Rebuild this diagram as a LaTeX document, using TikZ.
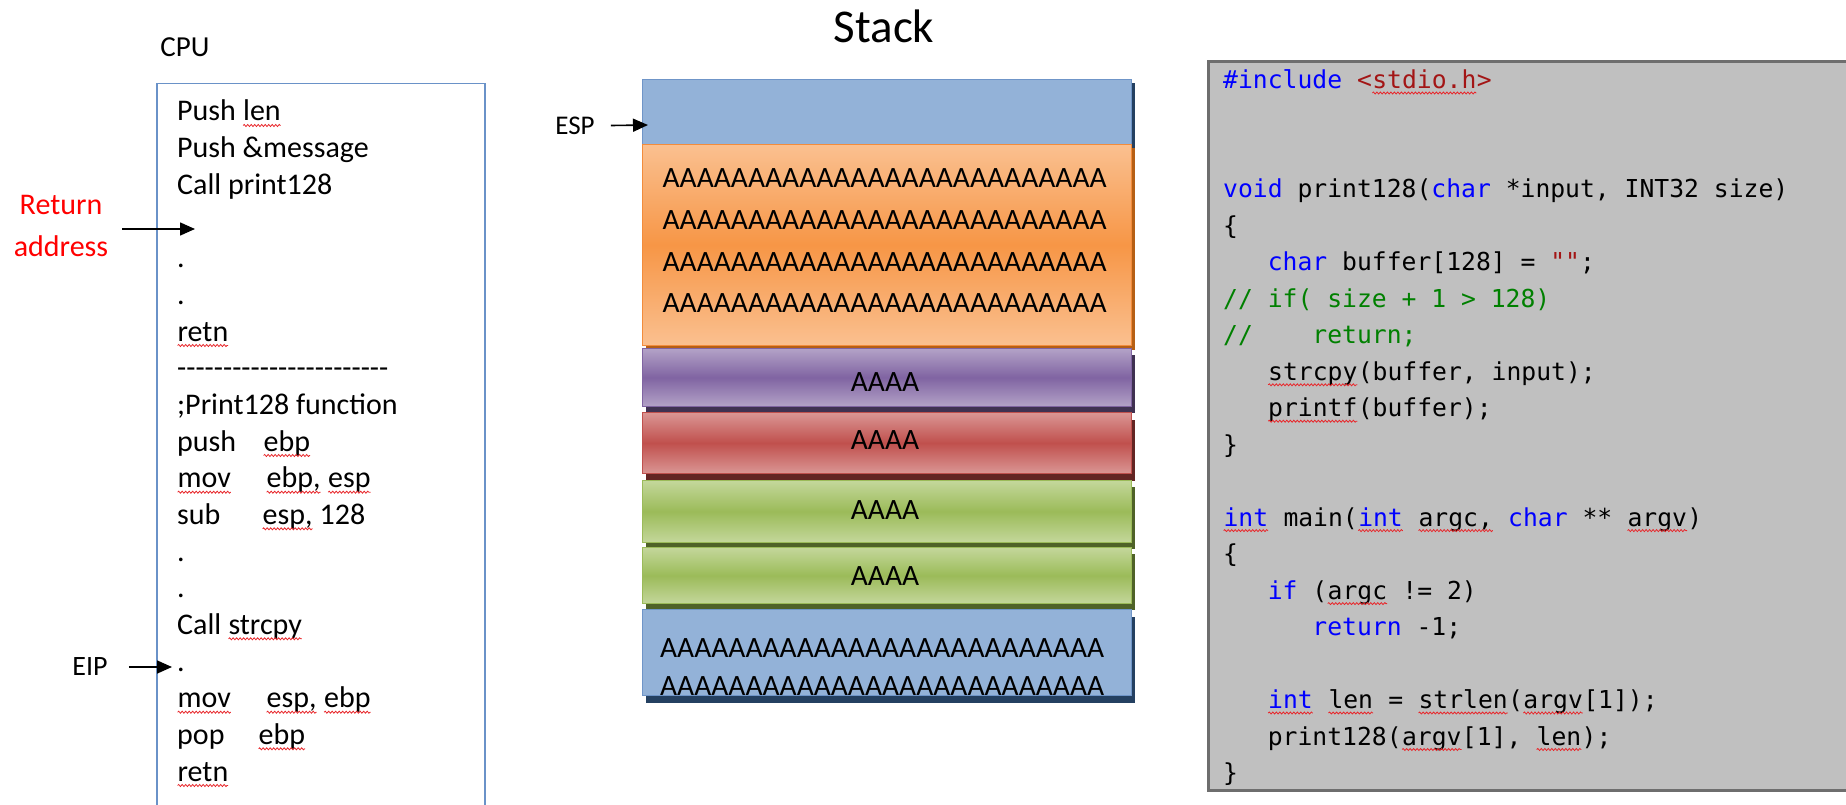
\documentclass[tikz,border=0pt]{standalone}
\usepackage{fontspec}
\usepackage{tikz}
\usetikzlibrary{arrows.meta,shadows,decorations.pathmorphing}
\newfontfamily\cpufont{Carlito}
\newfontfamily\codefont{DejaVu Sans Mono}
\definecolor{cpuedge}{HTML}{6A92C8}
\definecolor{retred}{HTML}{FF0000}
\definecolor{spellred}{HTML}{E8262A}
\definecolor{kwblue}{HTML}{0000FF}
\definecolor{strred}{HTML}{A31515}
\definecolor{cmgreen}{HTML}{008000}
\definecolor{codegray}{HTML}{C0C0C0}
\definecolor{codeedge}{HTML}{6E6E6E}
\definecolor{slotblue}{HTML}{93B2D8}
\definecolor{blueedge}{HTML}{6F95C8}
\definecolor{blueshadow}{HTML}{244061}
\definecolor{orangelight}{HTML}{FAC090}
\definecolor{orangedark}{HTML}{F79646}
\definecolor{orangeedge}{HTML}{F28C3C}
\definecolor{orangeshadow}{HTML}{B65F14}
\definecolor{purplelight}{HTML}{B3A2C7}
\definecolor{purpledark}{HTML}{8064A2}
\definecolor{purpleshadow}{HTML}{3F3151}
\definecolor{redlight}{HTML}{DA9694}
\definecolor{reddark}{HTML}{C0504D}
\definecolor{redshadow}{HTML}{632523}
\definecolor{greenlight}{HTML}{C4D79B}
\definecolor{greendark}{HTML}{9BBB59}
\definecolor{greenshadow}{HTML}{4F6228}
\newlength\cw
\setlength\cw{14.87pt}
\newcommand\codeind[1]{\hspace*{#1\cw}}
\newcommand\kw[1]{\textcolor{kwblue}{#1}}
\newcommand\strg[1]{\textcolor{strred}{#1}}
\newcommand\cmt[1]{\textcolor{cmgreen}{#1}}
\newcommand\spell[1]{\tikz[baseline=(w.base)]{\node[inner sep=0pt,outer sep=0pt,anchor=base] (w) {#1};
  \draw[spellred,line width=0.8pt,decorate,decoration={snake,amplitude=1pt,segment length=3.5pt}]
    ([yshift=-4.5pt]w.base west) -- ([yshift=-4.5pt]w.base east);}}
\newcommand\Arow{AAAAAAAAAAAAAAAAAAAAAAAAAA}
\tikzset{
  cpuline/.style={font=\cpufont\fontsize{30}{36}\selectfont, inner sep=0pt, anchor=base west},
  codeline/.style={font=\codefont\fontsize{24.7}{30}\selectfont, inner sep=0pt, anchor=base west},
  atext/.style={font=\cpufont\fontsize{29.5}{36}\selectfont, inner sep=0pt, anchor=base},
  lbl/.style={font=\cpufont\fontsize{28}{42}\selectfont, inner sep=0pt},
  slot/.style={draw, line width=1pt, minimum width=489pt, anchor=north west, inner sep=0pt},
  ptr/.style={-{Triangle[length=15pt,width=13pt]}, line width=1.6pt},
}
\begin{document}
\begin{tikzpicture}[x=1pt,y=-1pt]
  \useasboundingbox (0,0) rectangle (1846,805);
  \fill[white] (0,0) rectangle (1846,805);
  \clip (0,0) rectangle (1846,805);

  % CPU listing
  \node[lbl, font=\cpufont\fontsize{29}{36}\selectfont] (cpu-title) at (185,47) {CPU};
  \node[draw=cpuedge, line width=1.5pt, minimum width=328pt, minimum height=760pt, anchor=north west] (cpu) at (156,83) {};
  \node[cpuline] (cpu-0) at (177,121) {Push \spell{len}};
  \node[cpuline] (cpu-1) at (177,157.7) {Push \&message};
  \node[cpuline] (cpu-2) at (177,194.3) {Call print128};
  \node[cpuline] (cpu-4) at (177,267.7) {.};
  \node[cpuline] (cpu-5) at (177,304.3) {.};
  \node[cpuline] (cpu-6) at (177,341) {\spell{retn}};
  \node[cpuline] (cpu-7) at (177,377.7) {\foreach \k in {1,...,23}{\mbox{-}}};
  \node[cpuline] (cpu-8) at (177,414.3) {;Print128 function};
  \node[cpuline] (cpu-9) at (177,451) {\makebox[86pt][l]{push}\spell{ebp}};
  \node[cpuline] (cpu-10) at (177,487.7) {\makebox[89pt][l]{\spell{mov}}\spell{ebp,} \spell{esp}};
  \node[cpuline] (cpu-11) at (177,524.3) {\makebox[85pt][l]{sub}\spell{esp,} 128};
  \node[cpuline] (cpu-12) at (177,561) {.};
  \node[cpuline] (cpu-13) at (177,597.7) {.};
  \node[cpuline] (cpu-14) at (177,634.3) {Call \spell{strcpy}};
  \node[cpuline] (cpu-15) at (177,671) {.};
  \node[cpuline] (cpu-16) at (177,707.7) {\makebox[89pt][l]{\spell{mov}}\spell{esp,} \spell{ebp}};
  \node[cpuline] (cpu-17) at (177,744.3) {\makebox[81pt][l]{pop}\spell{ebp}};
  \node[cpuline] (cpu-18) at (177,781) {\spell{retn}};

  % pointers into the listing
  \node[lbl, font=\cpufont\fontsize{30}{42}\selectfont, text=retred, align=center] (ret) at (61,226) {Return\\address};
  \coordinate (ret-tip) at (195,229);
  \draw[ptr, shorten <=14pt] (ret.east |- ret-tip) -- (ret-tip);
  \node[lbl] (eip) at (90,667) {EIP};
  \coordinate (eip-tip) at (172,667);
  \draw[ptr, shorten <=21pt] (eip) -- (eip-tip);

  % stack
  \node[lbl, font=\cpufont\fontsize{47}{50}\selectfont] (stack-title) at (884,26) {Stack};
  \node[slot, draw=blueedge, fill=slotblue, minimum height=65pt,
    drop shadow={shadow xshift=3pt, shadow yshift=-4pt, opacity=1, fill=blueshadow}] (top-slot) at (642,79) {};
  \node[slot, draw=orangeedge, top color=orangelight, bottom color=orangelight, middle color=orangedark, minimum height=201pt,
    drop shadow={shadow xshift=3pt, shadow yshift=-4pt, opacity=1, fill=orangeshadow}] (buffer) at (642,144) {};
  \node[slot, draw=purpledark, top color=purplelight, bottom color=purplelight, middle color=purpledark, minimum height=58pt,
    drop shadow={shadow xshift=3pt, shadow yshift=-6pt, opacity=1, fill=purpleshadow}] (ebp-slot) at (642,348) {};
  \node[slot, draw=reddark, top color=redlight, bottom color=redlight, middle color=reddark, minimum height=61pt,
    drop shadow={shadow xshift=3pt, shadow yshift=-7pt, opacity=1, fill=redshadow}] (ret-slot) at (642,412) {};
  \node[slot, draw=greendark, top color=greenlight, bottom color=greenlight, middle color=greendark, minimum height=62pt,
    drop shadow={shadow xshift=3pt, shadow yshift=-6pt, opacity=1, fill=greenshadow}] (arg-slot1) at (642,480) {};
  \node[slot, draw=greendark, top color=greenlight, bottom color=greenlight, middle color=greendark, minimum height=56pt,
    drop shadow={shadow xshift=3pt, shadow yshift=-6pt, opacity=1, fill=greenshadow}] (arg-slot2) at (642,547) {};
  \node[slot, draw=blueedge, fill=slotblue, minimum height=86pt,
    drop shadow={shadow xshift=3pt, shadow yshift=-7pt, opacity=1, fill=blueshadow}] (bottom-slot) at (642,609) {};

  \node[atext] (buffer-1) at (884.5,187.5) {\Arow};
  \node[atext] (buffer-2) at (884.5,229.5) {\Arow};
  \node[atext] (buffer-3) at (884.5,271.5) {\Arow};
  \node[atext] (buffer-4) at (884.5,312.5) {\Arow};
  \node[atext] (ebp-text) at (885,391.5) {AAAA};
  \node[atext] (ret-text) at (885,449.5) {AAAA};
  \node[atext] (arg-text1) at (885,519.5) {AAAA};
  \node[atext] (arg-text2) at (885,585.5) {AAAA};
  \node[atext] (bottom-1) at (882,657.5) {\Arow};
  \node[atext] (bottom-2) at (882,695.5) {\Arow};

  \node[lbl, font=\cpufont\fontsize{27}{36}\selectfont] (esp) at (575,126) {ESP};
  \coordinate (esp-tip) at (648,125);
  \draw[ptr, shorten <=16pt] (esp) -- (esp-tip);

  % C source
  \node[draw=codeedge, line width=3pt, fill=codegray, minimum width=700pt, minimum height=729pt, anchor=north west] (code) at (1207,60) {};
  \node[codeline] (code-0) at (1223,88.5) {\kw{\#include} \strg{<\spell{stdio.h}>}};
  \node[codeline] (code-3) at (1223,197.9) {\kw{void} print128(\kw{char} *input, INT32 size)};
  \node[codeline] (code-4) at (1223,234.4) {\{};
  \node[codeline] (code-5) at (1223,270.9) {\codeind{3}\kw{char} buffer[128] = \strg{""};};
  \node[codeline] (code-6) at (1223,307.3) {\cmt{// if( size + 1 > 128)}};
  \node[codeline] (code-7) at (1223,343.8) {\cmt{//\codeind{4}return;}};
  \node[codeline] (code-8) at (1223,380.3) {\codeind{3}\spell{strcpy}(buffer, input);};
  \node[codeline] (code-9) at (1223,416.7) {\codeind{3}\spell{printf}(buffer);};
  \node[codeline] (code-10) at (1223,453.2) {\}};
  \node[codeline] (code-12) at (1223,526.1) {\kw{\spell{int}} main(\kw{\spell{int}} \spell{argc,} \kw{char} ** \spell{argv})};
  \node[codeline] (code-13) at (1223,562.6) {\{};
  \node[codeline] (code-14) at (1223,599.1) {\codeind{3}\kw{if} (\spell{argc} != 2)};
  \node[codeline] (code-15) at (1223,635.6) {\codeind{6}\kw{return} -1;};
  \node[codeline] (code-17) at (1223,708.5) {\codeind{3}\kw{\spell{int}} \spell{len} = \spell{strlen}(\spell{argv}[1]);};
  \node[codeline] (code-18) at (1223,745) {\codeind{3}print128(\spell{argv}[1], \spell{len});};
  \node[codeline] (code-19) at (1223,781.4) {\}};
\end{tikzpicture}
\end{document}
